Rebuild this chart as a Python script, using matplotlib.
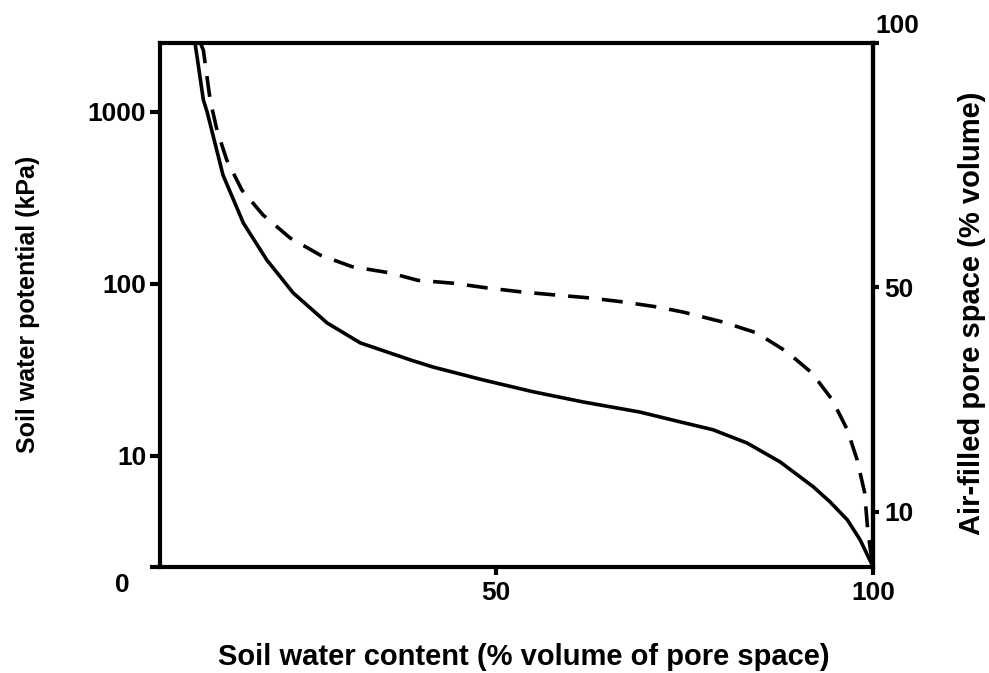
"""Soil water retention curve with air-filled pore space."""

import matplotlib

matplotlib.use("Agg")
import matplotlib.pyplot as plt

plt.rcParams["font.family"] = ["Liberation Sans", "DejaVu Sans"]
plt.rcParams["font.weight"] = "bold"

# solid curve: soil water potential (kPa) vs water content (% pore space)
solid_x = [10.2, 11.3, 11.8, 12.5, 13.9, 16.6, 19.7, 23.2, 27.7, 32.1, 38.7, 41.7,
           48.3, 55.0, 61.6, 69.1, 74.4, 78.8, 83.3, 87.7, 92.1, 94.3, 96.6, 98.3,
           99.9, 100.0]
solid_kpa = [2518, 1175, 1000, 755, 430, 226, 138, 88.7, 59.3, 45.4, 36.2, 32.9,
             27.7, 23.6, 20.6, 18.0, 15.8, 14.2, 11.9, 9.23, 6.61, 5.41, 4.25, 3.25,
             2.32, 2.26]

# dashed curve
dash_x = [10.9, 11.3, 12.2, 13.1, 14.4, 16.4, 19.2, 22.8, 26.8, 31.0, 36.0, 39.7,
          44.4, 48.9, 53.5, 57.9, 62.5, 66.9, 71.4, 74.8, 80.1, 84.6, 88.6, 91.9,
          94.6, 96.6, 97.9, 98.9, 99.3, 99.9, 100.0]
dash_kpa = [2518, 2290, 1175, 785, 526, 352, 252, 185, 147, 126, 116, 105,
            101, 94.8, 89.8, 86.3, 82.9, 78.6, 73.5, 68.7, 60.1, 51.9, 40.3, 30.4,
            21.2, 14.2, 9.48, 6.10, 3.72, 2.39, 2.26]

left_ticks = [10, 100, 1000]
x_ticks = [50, 100]
right_labels = ["10", "50"]
right_pos = [0.105, 0.534]  # axes fraction of the right-hand ticks

XMIN, XMAX = 5.56, 100
YMIN, YMAX = 2.26, 2518

fig = plt.figure(figsize=(9.89, 6.73), dpi=100)
ax = fig.add_axes([0.1618, 0.1575, 0.7209, 0.7786])

ax.plot(solid_x, solid_kpa, color="black", lw=2.6, solid_joinstyle="round")
ax.plot(dash_x, dash_kpa, color="black", lw=2.6, linestyle=(0, (5.8, 3.6)))

ax.set_yscale("log")
ax.set_xlim(XMIN, XMAX)
ax.set_ylim(YMIN, YMAX)
ax.minorticks_off()

ax.set_yticks(left_ticks + [YMIN])
ax.set_yticklabels([str(t) for t in left_ticks] + [""])
ax.set_xticks(x_ticks)
ax.set_xticklabels([str(t) for t in x_ticks])

for side in ax.spines.values():
    side.set_linewidth(3)
ax.tick_params(axis="y", direction="out", length=7, width=3, pad=3, labelsize=19)
ax.tick_params(axis="x", direction="out", length=6, width=3, pad=4, labelsize=19)

ax2 = ax.twinx()
ax2.set_ylim(0, 1)
ax2.set_yticks(right_pos + [1.0])
ax2.set_yticklabels(right_labels + [""])
ax2.tick_params(axis="y", direction="out", length=4, width=3, pad=4, labelsize=19)
ax2.spines["right"].set_linewidth(3)
ax2.text(1.003, 1.01, "100", transform=ax2.transAxes, ha="left", va="bottom",
         fontsize=19, fontweight="bold")

fig.text(122 / 989, 1 - 585 / 673, "0", ha="center", va="center",
         fontsize=19, fontweight="bold")

fig.text(524 / 989, 1 - 657 / 673, "Soil water content (% volume of pore space)",
         ha="center", va="center", fontsize=21, fontweight="bold")
fig.text(28 / 989, 1 - 304 / 673, "Soil water potential (kPa)", rotation=90,
         ha="center", va="center", fontsize=18, fontweight="bold")
fig.text(972 / 989, 1 - 313 / 673, "Air-filled pore space (% volume)", rotation=90,
         ha="center", va="center", fontsize=21, fontweight="bold")

fig.savefig("out.png", dpi=100)
